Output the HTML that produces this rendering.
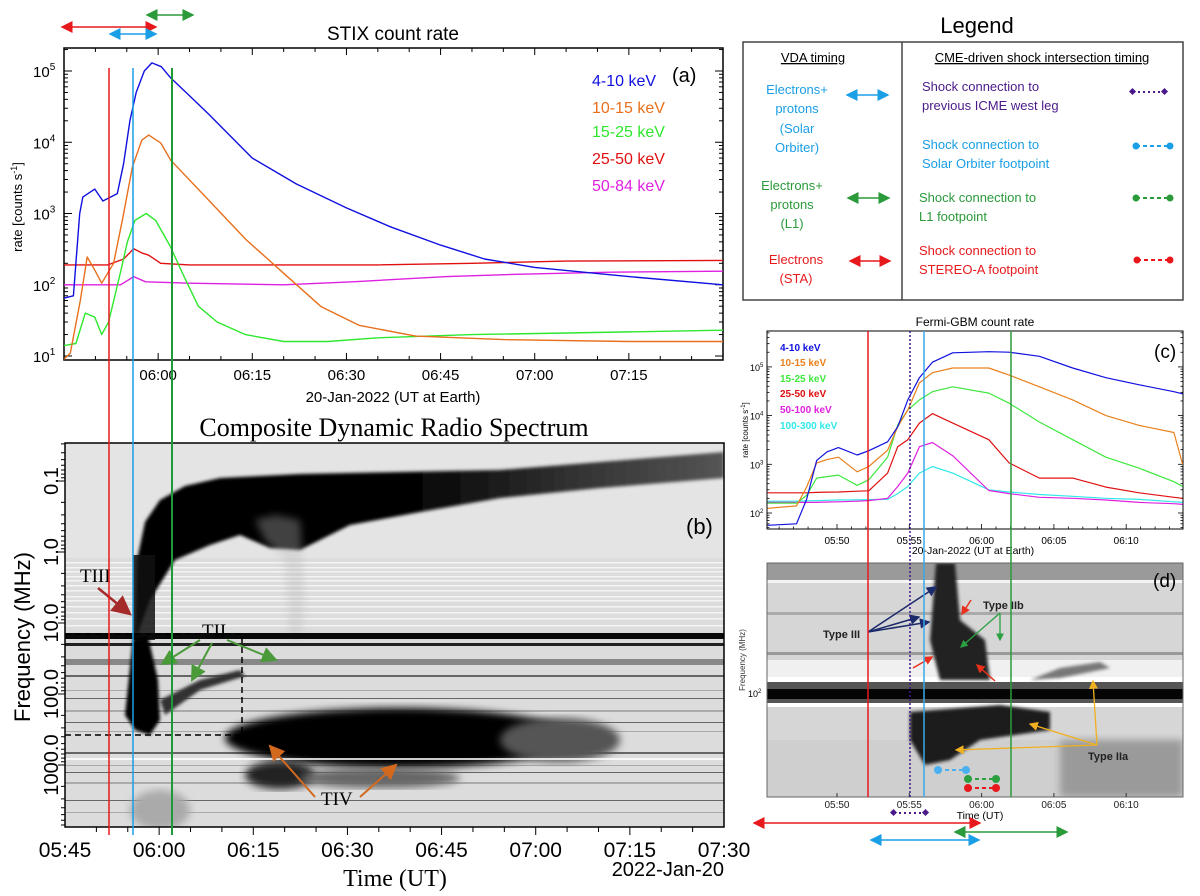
<!DOCTYPE html>
<html><head><meta charset="utf-8"><style>
html,body{margin:0;padding:0;background:#fff}
svg{display:block}
text{font-family:"Liberation Sans",sans-serif}
.serif{font-family:"Liberation Serif",serif}
</style></head><body>
<svg id="fig" width="1200" height="896" viewBox="0 0 1200 896" xmlns="http://www.w3.org/2000/svg">
<defs>
<filter id="blur4"><feGaussianBlur stdDeviation="4"/></filter>
<filter id="blur2"><feGaussianBlur stdDeviation="1.5"/></filter>
<linearGradient id="arcg" x1="0" x2="1" y1="0" y2="0">
<stop offset="0" stop-color="#000"/><stop offset="0.45" stop-color="#000"/><stop offset="0.75" stop-color="#333"/><stop offset="1" stop-color="#555"/></linearGradient>
<marker id="ahR" markerWidth="8" markerHeight="8" refX="7" refY="4" orient="auto-start-reverse"><path d="M0,0 L8,4 L0,8 z" fill="#e8191c"/></marker>
<marker id="ahB" markerWidth="8" markerHeight="8" refX="7" refY="4" orient="auto-start-reverse"><path d="M0,0 L8,4 L0,8 z" fill="#1a9ee6"/></marker>
<marker id="ahG" markerWidth="8" markerHeight="8" refX="7" refY="4" orient="auto-start-reverse"><path d="M0,0 L8,4 L0,8 z" fill="#2a9a3a"/></marker>
<marker id="ahBR" markerWidth="8" markerHeight="8" refX="7" refY="4" orient="auto"><path d="M0,0 L8,4 L0,8 z" fill="#a52a2a"/></marker>
<marker id="ahO" markerWidth="8" markerHeight="8" refX="7" refY="4" orient="auto"><path d="M0,0 L8,4 L0,8 z" fill="#d2691e"/></marker>
<marker id="ahGG" markerWidth="8" markerHeight="8" refX="7" refY="4" orient="auto"><path d="M0,0 L8,4 L0,8 z" fill="#4a9a3a"/></marker>
<marker id="ahN" markerWidth="7" markerHeight="7" refX="6" refY="3.5" orient="auto"><path d="M0,0 L7,3.5 L0,7 z" fill="#1a2a6a"/></marker>
<marker id="ahY" markerWidth="7" markerHeight="7" refX="6" refY="3.5" orient="auto"><path d="M0,0 L7,3.5 L0,7 z" fill="#f0b020"/></marker>
<marker id="ahSm" markerWidth="6" markerHeight="6" refX="5" refY="3" orient="auto"><path d="M0,0 L6,3 L0,6 z" fill="#e8301c"/></marker>
<marker id="ahGs" markerWidth="6" markerHeight="6" refX="5" refY="3" orient="auto"><path d="M0,0 L6,3 L0,6 z" fill="#2aa040"/></marker>
<clipPath id="clipA"><rect x="64" y="48" width="659" height="312"/></clipPath>
<clipPath id="clipB"><rect x="65" y="443" width="659" height="384"/></clipPath>
<clipPath id="clipC"><rect x="767" y="331" width="416" height="198"/></clipPath>
<clipPath id="clipD"><rect x="767" y="563" width="416" height="234"/></clipPath>
</defs>

<!-- Panel (a) -->
<g id="panelA">
<text x="393" y="40" font-size="19" text-anchor="middle">STIX count rate</text>
<rect x="64" y="48" width="659" height="312" fill="none" stroke="#000" stroke-width="1.5"/>
<g id="aTicks"></g>
<g id="aSeries" clip-path="url(#clipA)"></g>
<g font-size="16">
<text x="592" y="86" fill="#1010e0">4-10 keV</text>
<text x="592" y="113" fill="#e8701c">10-15 keV</text>
<text x="592" y="137" fill="#2ee82e">15-25 keV</text>
<text x="592" y="164" fill="#e01010">25-50 keV</text>
<text x="592" y="191" fill="#e020e0">50-84 keV</text>
</g>
<text x="672" y="82" font-size="20">(a)</text>
<text transform="translate(22,207) rotate(-90)" font-size="13" text-anchor="middle">rate [counts s<tspan dy="-5" font-size="9">-1</tspan><tspan dy="5">]</tspan></text>
<text x="393" y="402" font-size="15" text-anchor="middle">20-Jan-2022 (UT at Earth)</text>
</g>

<!-- Panel (b) -->
<g id="panelB">
<text x="394" y="436" class="serif" font-size="26" text-anchor="middle">Composite Dynamic Radio Spectrum</text>
<g clip-path="url(#clipB)">
<rect x="65" y="443" width="659" height="384" fill="#dcdcdc"/>
<rect x="65" y="443" width="659" height="115" fill="#e4e4e4"/>
<g id="bStripes"></g>
<path d="M135,640 L137,560 L145,522 L160,500 L185,486 L220,478 L300,474 L400,472 L500,470 L600,462 L724,452 L724,478 L600,488 L500,498 L420,512 L350,525 L320,540 L300,550 L270,548 L240,535 L210,545 L175,560 L150,600 Z" fill="url(#arcg)" filter="url(#blur2)"/>
<path d="M255,520 L275,515 L300,520 L305,600 L300,640 L290,640 L285,560 L265,540 Z" fill="#bbb" opacity="0.35" filter="url(#blur4)"/>
<rect x="133" y="555" width="22" height="85" fill="#111" opacity="0.85"/>
<rect x="65" y="633" width="659" height="6" fill="#0a0a0a"/>
<rect x="65" y="643" width="659" height="3" fill="#222"/>
<rect x="65" y="659" width="659" height="6" fill="#888"/>
<path d="M133,638 L148,636 L158,680 L160,720 L150,735 L135,730 L125,715 Z" fill="#000" filter="url(#blur2)"/>
<path d="M160,700 L200,680 L240,670 L245,676 L200,690 L165,715 Z" fill="#333" filter="url(#blur2)"/>
<ellipse cx="400" cy="738" rx="175" ry="30" fill="#000" filter="url(#blur4)"/>
<ellipse cx="560" cy="740" rx="60" ry="22" fill="#555" filter="url(#blur4)"/>
<ellipse cx="280" cy="775" rx="35" ry="14" fill="#222" filter="url(#blur4)"/>
<ellipse cx="380" cy="778" rx="80" ry="10" fill="#666" filter="url(#blur4)"/>
<ellipse cx="160" cy="810" rx="30" ry="20" fill="#aaa" filter="url(#blur4)"/>
<rect x="65" y="758" width="659" height="2" fill="#fff" opacity="0.8"/>
</g>
<rect x="65" y="443" width="659" height="384" fill="none" stroke="#000" stroke-width="1.5"/>
<g id="bTicks"></g>
<path d="M65,634 H242 V735 M65,735 H242" stroke="#000" stroke-width="1.5" stroke-dasharray="6,4" fill="none"/>
<text x="686" y="534" font-size="22">(b)</text>
<text x="80" y="582" class="serif" font-size="19">TIII</text>
<line x1="98" y1="588" x2="130" y2="614" stroke="#a52a2a" stroke-width="2.5" marker-end="url(#ahBR)"/>
<text x="202" y="637" class="serif" font-size="19">TII</text>
<line x1="200" y1="640" x2="162" y2="664" stroke="#4a9a3a" stroke-width="2" marker-end="url(#ahGG)"/>
<line x1="212" y1="643" x2="192" y2="680" stroke="#4a9a3a" stroke-width="2" marker-end="url(#ahGG)"/>
<line x1="227" y1="640" x2="276" y2="660" stroke="#4a9a3a" stroke-width="2" marker-end="url(#ahGG)"/>
<text x="321" y="805" class="serif" font-size="19">TIV</text>
<line x1="315" y1="797" x2="270" y2="746" stroke="#d2691e" stroke-width="2" marker-end="url(#ahO)"/>
<line x1="360" y1="797" x2="396" y2="765" stroke="#d2691e" stroke-width="2" marker-end="url(#ahO)"/>
<text transform="translate(30,637) rotate(-90)" font-size="22" text-anchor="middle">Frequency (MHz)</text>
<text x="395" y="886" class="serif" font-size="24" text-anchor="middle">Time (UT)</text>
<text x="724" y="876" font-size="20" text-anchor="end">2022-Jan-20</text>
</g>

<!-- long vertical lines -->
<line x1="109" y1="68" x2="109" y2="835" stroke="#e8191c" stroke-width="1.5"/>
<line x1="133" y1="68" x2="133" y2="835" stroke="#1a9ee6" stroke-width="1.5"/>
<line x1="172" y1="68" x2="172" y2="835" stroke="#1e9a37" stroke-width="2"/>
<line x1="62" y1="27" x2="156" y2="27" stroke="#e8191c" stroke-width="1.5" marker-start="url(#ahR)" marker-end="url(#ahR)"/>
<line x1="110" y1="34" x2="156" y2="34" stroke="#1a9ee6" stroke-width="1.5" marker-start="url(#ahB)" marker-end="url(#ahB)"/>
<line x1="147" y1="15" x2="193" y2="15" stroke="#2a9a3a" stroke-width="1.5" marker-start="url(#ahG)" marker-end="url(#ahG)"/>

<!-- Legend box -->
<g id="legendBox" font-size="13">
<text x="977" y="33" font-size="22" text-anchor="middle">Legend</text>
<rect x="743" y="42" width="440" height="258" fill="none" stroke="#444" stroke-width="1.5"/>
<line x1="902" y1="42" x2="902" y2="300" stroke="#444" stroke-width="1.5"/>
<text x="813" y="62" text-anchor="middle" text-decoration="underline">VDA timing</text>
<text x="1042" y="62" text-anchor="middle" text-decoration="underline">CME-driven shock intersection timing</text>
<g fill="#1a9ee6" text-anchor="middle"><text x="797" y="94">Electrons+</text><text x="797" y="113">protons</text><text x="797" y="133">(Solar</text><text x="797" y="152">Orbiter)</text></g>
<line x1="847" y1="95" x2="888" y2="95" stroke="#1a9ee6" stroke-width="1.5" marker-start="url(#ahB)" marker-end="url(#ahB)"/>
<g fill="#2a9a3a" text-anchor="middle"><text x="792" y="190">Electrons+</text><text x="792" y="209">protons</text><text x="792" y="228">(L1)</text></g>
<line x1="848" y1="198" x2="889" y2="198" stroke="#2a9a3a" stroke-width="1.5" marker-start="url(#ahG)" marker-end="url(#ahG)"/>
<g fill="#e8191c" text-anchor="middle"><text x="796" y="264">Electrons</text><text x="796" y="283">(STA)</text></g>
<line x1="850" y1="261" x2="890" y2="261" stroke="#e8191c" stroke-width="1.5" marker-start="url(#ahR)" marker-end="url(#ahR)"/>
<g fill="#4b1a8a"><text x="922" y="91">Shock connection to</text><text x="922" y="110">previous ICME west leg</text></g>
<g fill="#1a9ee6"><text x="922" y="149">Shock connection to</text><text x="922" y="168">Solar Orbiter footpoint</text></g>
<g fill="#2a9a3a"><text x="919" y="202">Shock connection to</text><text x="919" y="221">L1 footpoint</text></g>
<g fill="#e8191c"><text x="919" y="255">Shock connection to</text><text x="919" y="274">STEREO-A footpoint</text></g>
<g><line x1="1133" y1="92" x2="1165" y2="92" stroke="#4b1a8a" stroke-width="2" stroke-dasharray="2,3"/><rect x="1130" y="89" width="5" height="5" fill="#4b1a8a" transform="rotate(45 1132.5 91.5)"/><rect x="1162" y="89" width="5" height="5" fill="#4b1a8a" transform="rotate(45 1164.5 91.5)"/></g>
<g><line x1="1136" y1="146" x2="1170" y2="146" stroke="#1a9ee6" stroke-width="2" stroke-dasharray="4,3"/><circle cx="1136" cy="146" r="3.5" fill="#1a9ee6"/><circle cx="1170" cy="146" r="3.5" fill="#1a9ee6"/></g>
<g><line x1="1136" y1="198" x2="1170" y2="198" stroke="#2a9a3a" stroke-width="2" stroke-dasharray="4,3"/><circle cx="1136" cy="198" r="3.5" fill="#2a9a3a"/><circle cx="1170" cy="198" r="3.5" fill="#2a9a3a"/></g>
<g><line x1="1137" y1="260" x2="1170" y2="260" stroke="#e8191c" stroke-width="2" stroke-dasharray="4,3"/><circle cx="1137" cy="260" r="3.5" fill="#e8191c"/><circle cx="1170" cy="260" r="3.5" fill="#e8191c"/></g>
</g>

<!-- Panel (c) -->
<g id="panelC">
<text x="975" y="326" font-size="12" text-anchor="middle">Fermi-GBM count rate</text>
<rect x="767" y="331" width="416" height="198" fill="none" stroke="#000" stroke-width="1"/>
<g id="cTicks"></g>
<g id="cSeries" clip-path="url(#clipC)"></g>
<g font-size="10" font-weight="bold">
<text x="780" y="351" fill="#1010e0">4-10 keV</text>
<text x="780" y="366" fill="#e8801c">10-15 keV</text>
<text x="780" y="382" fill="#3ee83e">15-25 keV</text>
<text x="780" y="397" fill="#e01010">25-50 keV</text>
<text x="780" y="413" fill="#e020e0">50-100 keV</text>
<text x="780" y="429" fill="#30e8e8">100-300 keV</text>
</g>
<text x="1154" y="358" font-size="19">(c)</text>
<text transform="translate(748,430) rotate(-90)" font-size="8" text-anchor="middle">rate [counts s<tspan dy="-3" font-size="6">-1</tspan><tspan dy="3">]</tspan></text>
<text x="973" y="554" font-size="10.5" text-anchor="middle">20-Jan-2022 (UT at Earth)</text>
</g>

<!-- Panel (d) -->
<g id="panelD">
<g clip-path="url(#clipD)">
<rect x="767" y="563" width="416" height="234" fill="#d6d6d6"/>
<rect x="767" y="563" width="416" height="20" fill="#9a9a9a"/>
<rect x="767" y="580" width="416" height="3" fill="#f4f4f4"/>
<rect x="767" y="612" width="416" height="3" fill="#aaa"/>
<rect x="767" y="652" width="416" height="3" fill="#999"/>
<rect x="767" y="660" width="416" height="17" fill="#f0f0f0"/>
<rect x="767" y="677" width="416" height="5" fill="#fff"/>
<rect x="767" y="682" width="416" height="21" fill="#555"/>
<rect x="767" y="689" width="416" height="10" fill="#050505"/>
<rect x="767" y="703" width="416" height="4" fill="#fff"/>
<rect x="767" y="740" width="416" height="57" fill="#cfcfcf"/>
<rect x="1060" y="740" width="123" height="57" fill="#9a9a9a" filter="url(#blur4)"/>
<path d="M936,563 L955,563 L960,620 L985,640 L990,680 L940,680 L930,640 Z" fill="#222" filter="url(#blur2)"/>
<path d="M910,712 L1000,705 L1050,712 L1050,730 L980,740 L950,760 L925,765 L910,740 Z" fill="#1a1a1a" filter="url(#blur2)"/>
<path d="M1030,680 L1060,668 L1100,662 L1110,668 L1060,678 Z" fill="#777" filter="url(#blur2)"/>
</g>
<rect x="767" y="563" width="416" height="234" fill="none" stroke="#666" stroke-width="1"/>
<g id="dTicks"></g>
<text x="748" y="697" font-size="9">10<tspan dy="-4" font-size="6">2</tspan></text>
<text transform="translate(745,660) rotate(-90)" font-size="8" text-anchor="middle" fill="#333">Frequency (MHz)</text>
<text x="1153" y="587" font-size="19">(d)</text>
<text x="823" y="638" font-size="11" font-weight="bold" fill="#222">Type III</text>
<line x1="868" y1="632" x2="936" y2="587" stroke="#1a2a6a" stroke-width="1.5" marker-end="url(#ahN)"/>
<line x1="868" y1="632" x2="919" y2="617" stroke="#1a2a6a" stroke-width="1.5" marker-end="url(#ahN)"/>
<line x1="868" y1="632" x2="929" y2="622" stroke="#1a2a6a" stroke-width="1.5" marker-end="url(#ahN)"/>
<text x="983" y="609" font-size="11" font-weight="bold" fill="#222">Type IIb</text>
<line x1="1000" y1="613" x2="961" y2="647" stroke="#2aa040" stroke-width="1.3" marker-end="url(#ahGs)"/>
<line x1="1000" y1="613" x2="1000" y2="640" stroke="#2aa040" stroke-width="1.3" marker-end="url(#ahGs)"/>
<line x1="971" y1="600" x2="962" y2="614" stroke="#e8301c" stroke-width="1.5" marker-end="url(#ahSm)"/>
<line x1="913" y1="668" x2="932" y2="657" stroke="#e8301c" stroke-width="1.5" marker-end="url(#ahSm)"/>
<line x1="995" y1="681" x2="977" y2="665" stroke="#e8301c" stroke-width="1.5" marker-end="url(#ahSm)"/>
<text x="1088" y="760" font-size="11" font-weight="bold" fill="#222">Type IIa</text>
<line x1="1097" y1="745" x2="956" y2="750" stroke="#f0b020" stroke-width="1.3" marker-end="url(#ahY)"/>
<line x1="1097" y1="745" x2="1030" y2="724" stroke="#f0b020" stroke-width="1.3" marker-end="url(#ahY)"/>
<line x1="1097" y1="745" x2="1093" y2="681" stroke="#f0b020" stroke-width="1.3" marker-end="url(#ahY)"/>
<g><line x1="938" y1="770" x2="966" y2="770" stroke="#4ab0f0" stroke-width="2" stroke-dasharray="4,3"/><circle cx="938" cy="770" r="4" fill="#4ab0f0"/><circle cx="966" cy="770" r="4" fill="#4ab0f0"/></g>
<g><line x1="968" y1="779" x2="996" y2="779" stroke="#2aa040" stroke-width="2" stroke-dasharray="4,3"/><circle cx="968" cy="779" r="4" fill="#2aa040"/><circle cx="996" cy="779" r="4" fill="#2aa040"/></g>
<g><line x1="968" y1="788" x2="996" y2="788" stroke="#e8191c" stroke-width="2" stroke-dasharray="4,3"/><circle cx="968" cy="788" r="4" fill="#e8191c"/><circle cx="996" cy="788" r="4" fill="#e8191c"/></g>
<text x="980" y="819" font-size="10.5" text-anchor="middle">Time (UT)</text>
</g>
<line x1="868" y1="331" x2="868" y2="797" stroke="#e8191c" stroke-width="1.5"/>
<line x1="910" y1="331" x2="910" y2="797" stroke="#3a1a8a" stroke-width="1.5" stroke-dasharray="2,2"/>
<line x1="924" y1="331" x2="924" y2="797" stroke="#3aa8e8" stroke-width="1.5"/>
<line x1="1011" y1="331" x2="1011" y2="797" stroke="#2a9a3a" stroke-width="1.5"/>
<g><line x1="894" y1="813" x2="926" y2="813" stroke="#4b1a8a" stroke-width="2" stroke-dasharray="2,3"/><rect x="891" y="810" width="5" height="5" fill="#4b1a8a" transform="rotate(45 893.5 812.5)"/><rect x="923" y="810" width="5" height="5" fill="#4b1a8a" transform="rotate(45 925.5 812.5)"/></g>
<line x1="754" y1="823" x2="980" y2="823" stroke="#e8191c" stroke-width="1.5" marker-start="url(#ahR)" marker-end="url(#ahR)"/>
<line x1="955" y1="832" x2="1067" y2="832" stroke="#2a9a3a" stroke-width="1.5" marker-start="url(#ahG)" marker-end="url(#ahG)"/>
<line x1="871" y1="840" x2="979" y2="840" stroke="#1a9ee6" stroke-width="1.5" marker-start="url(#ahB)" marker-end="url(#ahB)"/>
</svg>
<script>
// ---- Panel (a) STIX data: minutes after 05:45 UT, counts/s ----
const aBlueT = [0,1.5,2.5,3,4.9,6.2,8.5,9.5,10.5,11.5,12.8,14,15.5,17,20,23,30,37,45,52,60,67,75,90,105];
const aBlueV = [65,70,1000,1700,2200,1500,1900,5000,20000,50000,100000,130000,115000,80000,45000,25000,6000,2600,1200,650,360,230,175,130,100];
const aOrangeT = [0,1,2.6,3.7,4.9,6,7.9,9.4,10.9,12.4,13.5,15.4,17,23,29,35,41,47,56,70,90,105];
const aOrangeV = [9,11,60,245,160,105,200,900,4500,10700,12600,9800,5600,1550,430,145,49,27,19,17,16,16];
const aGreenT = [0,1.9,3.4,4.9,6,7.1,9,10.1,11.3,13.1,14.6,16.9,18.8,21.4,24.4,28.9,35,42,50,65,80,105];
const aGreenV = [14,15,40,35,20,30,150,400,800,1000,800,350,150,50,30,20,16,16,18,20,21,23];
const aRedT = [0,7,9.5,11.1,12.4,13.5,15.4,20,50,65,80,105];
const aRedV = [190,190,230,320,280,260,200,190,190,200,215,220];
const aMagT = [0,9,11.1,13,20,35,46,61,72,87,105];
const aMagV = [100,100,130,110,105,100,110,130,140,150,155];
const aXTicks = ["06:00","06:15","06:30","06:45","07:00","07:15"];
const aXTickMin = [15,30,45,60,75,90];
const aYTickExp = [1,2,3,4,5];
// ---- Panel (b) axis ticks ----
const bXTicks = ["05:45","06:00","06:15","06:30","06:45","07:00","07:15","07:30"];
const bXTickMin = [0,15,30,45,60,75,90,105];
const bYTicks = ["0.1","1.0","10.0","100.0","1000.0"];
const bYTickVal = [0.1,1,10,100,1000];
// ---- Panel (c) Fermi-GBM data: minutes after 05:45 UT ----
const cTimes = [0.2,2.2,2.9,3.6,4.3,5.1,6.4,7.2,8.5,9.2,9.9,10.7,11.6,13,15.5,16.9,19,21.3,23.6,25.9,28.3,28.9];
const cBlue = [56,60,190,1200,1800,2200,1550,1900,2900,5900,21000,60000,125000,195000,205000,200000,165000,95000,60000,43000,31000,28000];
const cOrange = [125,140,340,1070,1250,1400,700,900,1950,5900,13000,47000,76000,95000,95000,68000,39000,21000,10000,6300,4500,1000];
const cGreen = [160,160,230,520,560,600,370,480,1400,6400,13000,21000,31000,39000,29000,18000,7400,3200,1400,830,440,350];
const cRed = [260,260,260,265,268,270,280,285,660,2300,3200,7000,11000,7000,3200,1070,520,520,340,260,210,200];
const cMag = [165,165,165,165,168,170,175,180,200,350,660,2300,2800,1500,290,250,210,200,185,165,155,150];
const cCyan = [175,175,178,180,182,185,187,188,190,250,350,660,900,660,300,270,240,220,200,190,170,165];
const cXTicks = ["05:50","05:55","06:00","06:05","06:10"];
const cXTickMin = [5,10,15,20,25];
const cYTickExp = [2,3,4,5];

const NS = "http://www.w3.org/2000/svg";
function mk(tag, attrs, parent){const e=document.createElementNS(NS,tag);for(const k in attrs)e.setAttribute(k,attrs[k]);parent.appendChild(e);return e;}

const axA = {x:t=>64+t*(659/105), y:v=>356-(Math.log10(v)-1)*71.25};
const axB = {x:t=>65+t*(659/105), y:f=>552+(Math.log10(f))*71};
const axC = {x:t=>767+(t-0.16)*14.46, y:v=>513-(Math.log10(v)-2)*48.7};

function drawLine(g, ax, ts, vs, color, name, w){
  let d="";
  for(let i=0;i<ts.length;i++){d+=(i?"L":"M")+ax.x(ts[i]).toFixed(1)+","+ax.y(vs[i]).toFixed(1);}
  const p=mk("path",{d:d,fill:"none",stroke:color,"stroke-width":w||1.4,"stroke-linejoin":"round"},g);
  
  
}

const aS=document.getElementById("aSeries");
drawLine(aS,axA,aRedT,aRedV,"#e01010","series-25-50kev");
drawLine(aS,axA,aMagT,aMagV,"#e020e0","series-50-84kev");
drawLine(aS,axA,aGreenT,aGreenV,"#2ee82e","series-15-25kev");
drawLine(aS,axA,aOrangeT,aOrangeV,"#e8701c","series-10-15kev");
drawLine(aS,axA,aBlueT,aBlueV,"#1010e0","series-4-10kev");
const aT=document.getElementById("aTicks");
for(let m=5;m<105;m+=5){const x=axA.x(m);const L=(m%15===0)?7:4;
  mk("line",{x1:x,y1:360,x2:x,y2:360-L,stroke:"#000"},aT);mk("line",{x1:x,y1:48,x2:x,y2:48+L,stroke:"#000"},aT);}
aXTicks.forEach((s,i)=>{const t=mk("text",{x:axA.x(aXTickMin[i]),y:380,"font-size":15,"text-anchor":"middle"},aT);t.textContent=s;
  
  });
for(let e=1;e<=5;e++){for(let k=1;k<10;k++){const v=k*Math.pow(10,e);const y=axA.y(v);if(y<48)continue;const L=k===1?8:4;
  mk("line",{x1:64,y1:y,x2:64+L,y2:y,stroke:"#000"},aT);mk("line",{x1:723,y1:y,x2:723-L,y2:y,stroke:"#000"},aT);}}
aYTickExp.forEach(e=>{const t=mk("text",{x:33,y:axA.y(Math.pow(10,e))+6,"font-size":15},aT);t.innerHTML="10<tspan dy='-7' font-size='10'>"+e+"</tspan>";
  
  });

const bS=document.getElementById("bStripes");
const stripeY=[562,567,571,576,580,585,590,596,600,606,612,618,625];
stripeY.forEach(y=>mk("rect",{x:65,y:y,width:659,height:1.5,fill:"#f4f4f4"},bS));
const stripeD=[675,690,698,710,722,731,752,765,772,782,800,812];
stripeD.forEach((y,i)=>mk("rect",{x:65,y:y,width:659,height:(i%3===0?2:1),fill:(i%2?"#aaa":"#666")},bS));
const bT=document.getElementById("bTicks");
for(let m=5;m<105;m+=5){const x=axB.x(m);const L=(m%15===0)?8:5;mk("line",{x1:x,y1:827,x2:x,y2:827+L,stroke:"#000"},bT);}
bXTicks.forEach((s,i)=>{const t=mk("text",{x:axB.x(bXTickMin[i]),y:857,"font-size":21,"text-anchor":"middle"},bT);t.textContent=s;
  
  });
for(let e=-2;e<=3;e++){for(let k=1;k<10;k++){const f=k*Math.pow(10,e);const y=axB.y(f);if(y<443||y>827)continue;
  mk("line",{x1:65,y1:y,x2:65-(k===1?7:4),y2:y,stroke:"#000"},bT);}}
bYTicks.forEach((s,i)=>{const y=axB.y(bYTickVal[i]);const t=mk("text",{transform:"translate(58,"+y+") rotate(-90)","font-size":20,"text-anchor":"middle"},bT);t.textContent=s;
  
  });

const cS=document.getElementById("cSeries");
drawLine(cS,axC,cTimes,cCyan,"#30e8e8","fermi-100-300kev",1.2);
drawLine(cS,axC,cTimes,cMag,"#e020e0","fermi-50-100kev",1.2);
drawLine(cS,axC,cTimes,cRed,"#e01010","fermi-25-50kev",1.2);
drawLine(cS,axC,cTimes,cGreen,"#3ee83e","fermi-15-25kev",1.2);
drawLine(cS,axC,cTimes,cOrange,"#e8801c","fermi-10-15kev",1.2);
drawLine(cS,axC,cTimes,cBlue,"#1010e0","fermi-4-10kev",1.2);
const cT=document.getElementById("cTicks");
for(let m=1;m<29;m++){const x=axC.x(m);const L=(m%5===0)?5:2.5;mk("line",{x1:x,y1:529,x2:x,y2:529-L,stroke:"#000","stroke-width":0.8},cT);}
cXTicks.forEach((s,i)=>{const t=mk("text",{x:axC.x(cXTickMin[i]),y:544,"font-size":10,"text-anchor":"middle"},cT);t.textContent=s;
  
  });
for(let e=1;e<=5;e++){for(let k=1;k<10;k++){const y=axC.y(k*Math.pow(10,e));if(y<331||y>529)continue;const L=k===1?5:2.5;
  mk("line",{x1:767,y1:y,x2:767+L,y2:y,stroke:"#000","stroke-width":0.8},cT);mk("line",{x1:1183,y1:y,x2:1183-L,y2:y,stroke:"#000","stroke-width":0.8},cT);}}
cYTickExp.forEach(e=>{const t=mk("text",{x:750,y:axC.y(Math.pow(10,e))+4,"font-size":9},cT);t.innerHTML="10<tspan dy='-4' font-size='6'>"+e+"</tspan>";
  
  });

const dT=document.getElementById("dTicks");
cXTicks.forEach((s,i)=>{const x=axC.x(cXTickMin[i]);mk("line",{x1:x,y1:797,x2:x,y2:793,stroke:"#333"},dT);
  const t=mk("text",{x:x,y:808,"font-size":10,"text-anchor":"middle",fill:"#222"},dT);t.textContent=s;
  
  });
</script>
</body></html>
